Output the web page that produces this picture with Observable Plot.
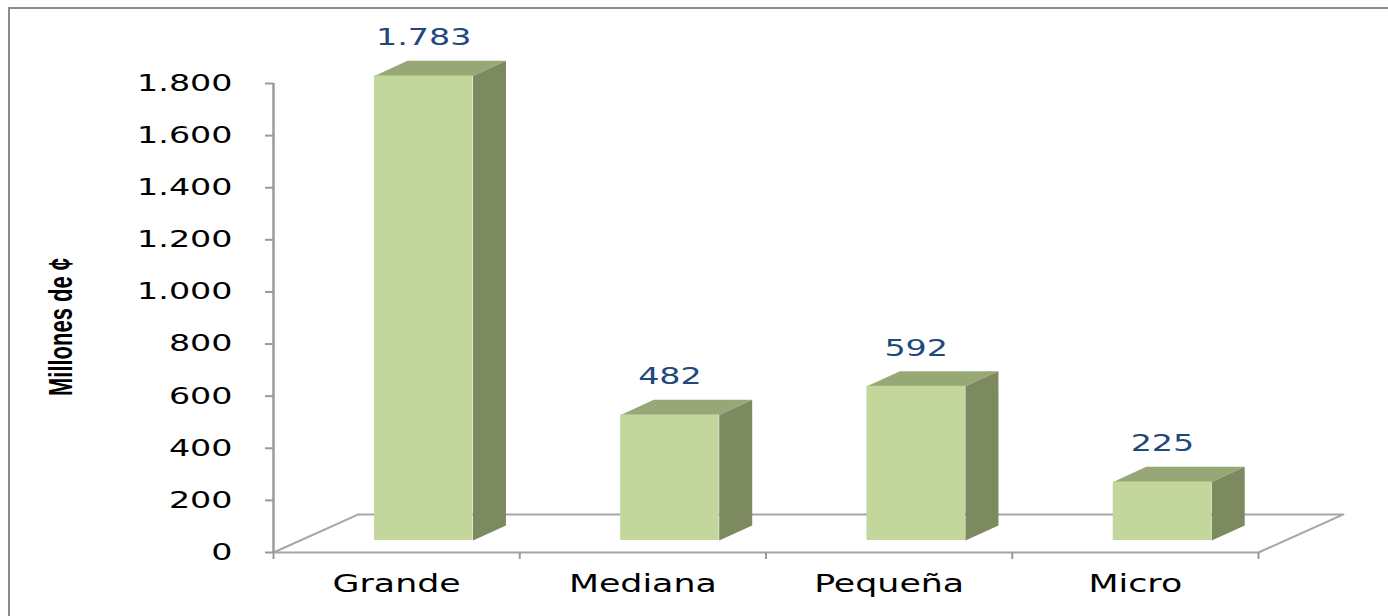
<!DOCTYPE html>
<html>
<head>
<meta charset="utf-8">
<script src="https://cdn.jsdelivr.net/npm/d3@7"></script>
<script src="https://cdn.jsdelivr.net/npm/@observablehq/plot@0.6"></script>
<style>
  html, body { margin: 0; padding: 0; background: #fff; overflow: hidden; }
  #wrap { position: relative; width: 1388px; height: 616px; }
  #border { position: absolute; left: 8px; top: 7px; width: 1500px; height: 800px;
            border: 2px solid #8c8c8c; pointer-events: none; }
</style>
</head>
<body>
<div id="wrap"><div id="chart"></div><div id="border"></div></div>
<script>
// ---- data ----
const categories = ["Grande", "Mediana", "Pequeña", "Micro"];
const values = [1783, 482, 592, 225];
const yTicks = [0, 200, 400, 600, 800, 1000, 1200, 1400, 1600, 1800];
const yTitle = "Millones de ¢";

// ---- 3D look (style constants, in scale units) ----
const BASE = 46;
const BAR_L = 0.41, BAR_R = 0.81;
const DDX = 0.134, DDY = 58;
const FDX = 0.345, FDY = 146;
const FRONT = "#c3d69b", TOP = "#98a776", SIDE = "#7d895e";
const AXIS = "#a6a6a6";

const fmt = d3.formatLocale({decimal: ",", thousands: ".", grouping: [3], currency: ["", ""]}).format(",d");

const bars = categories.map((c, i) => ({
  c, i, v: values[i],
  x1: i + BAR_L, x2: i + BAR_R, xm: i + (BAR_L + BAR_R) / 2,
  y0: BASE, y1: BASE + values[i]
}));
const topFaces = bars.flatMap(b => [
  [b.x1, b.y1], [b.x2, b.y1], [b.x2 + DDX, b.y1 + DDY], [b.x1 + DDX, b.y1 + DDY]
].map(([x, y]) => ({id: b.c, x, y})));
const sideFaces = bars.flatMap(b => [
  [b.x2, b.y0], [b.x2, b.y1], [b.x2 + DDX, b.y1 + DDY], [b.x2 + DDX, b.y0 + DDY]
].map(([x, y]) => ({id: b.c, x, y})));
const n = categories.length;
const floor = [[0, 0], [n, 0], [n + FDX, FDY], [FDX, FDY], [0, 0]].map(([x, y]) => ({x, y}));
const bounds = d3.range(n + 1);

const plot = Plot.plot({
  width: 1388,
  height: 616,
  marginLeft: 273,
  marginRight: 130,
  marginTop: 83,
  marginBottom: 64,
  style: {background: "transparent"},
  x: {type: "linear", domain: [0, n], label: null},
  y: {domain: [0, 1800], label: null},
  marks: [
    Plot.line(floor, {x: "x", y: "y", stroke: AXIS, strokeWidth: 2}),
    Plot.ruleX([0], {y1: 0, y2: 1800, stroke: "#9a9a9a", strokeWidth: 2.5}),
    Plot.axisY({ticks: yTicks, tickFormat: fmt, tickSize: 8, tickPadding: 33,
                stroke: "#9a9a9a", strokeWidth: 2, fill: "#000", fontSize: 23,
                fontFamily: "DejaVu Sans", label: null}),
    Plot.axisX({ticks: bounds, tickSize: 7, tickFormat: () => "", stroke: "#9a9a9a",
                strokeWidth: 2, label: null}),
    Plot.line(topFaces, {x: "x", y: "y", z: "id", fill: TOP, stroke: "none"}),
    Plot.line(sideFaces, {x: "x", y: "y", z: "id", fill: SIDE, stroke: "none"}),
    Plot.rect(bars, {x1: "x1", x2: "x2", y1: "y0", y2: "y1", fill: FRONT}),
    Plot.text(bars, {x: "xm", y: "y1", text: d => fmt(d.v), dy: -38, lineAnchor: "middle",
                     fill: "#1f497d", fontSize: 23, fontFamily: "DejaVu Sans"}),
    Plot.text(bars, {x: d => d.i + 0.5, y: 0, text: "c", dy: 32, lineAnchor: "middle",
                     fill: "#000", fontSize: 24, fontFamily: "DejaVu Sans"}),
    Plot.text([yTitle], {frameAnchor: "left", dx: -213, dy: 9, rotate: -90, text: d => d,
                         textAnchor: "middle", lineAnchor: "middle",
                         fill: "#000", fontSize: 20, fontWeight: "bold",
                         fontFamily: "Liberation Sans"})
  ]
});

document.getElementById("chart").appendChild(plot);

// horizontal stretch of text, as in the reference (wrap each text in a scaled group)
const NS = "http://www.w3.org/2000/svg";
Array.from(plot.querySelectorAll("text")).forEach(t => {
  try {
    if (!t.textContent) return;
    const bb = t.getBBox();
    const tr = t.getAttribute("transform") || "";
    const rotated = tr.includes("rotate");
    const anchor = getComputedStyle(t).textAnchor;
    let lx = bb.x + bb.width / 2;
    if (!rotated && anchor === "end") lx = bb.x + bb.width;
    const ly = bb.y + bb.height / 2;
    let p = plot.createSVGPoint(); p.x = lx; p.y = ly;
    const c = t.transform.baseVal.consolidate();
    if (c) p = p.matrixTransform(c.matrix);
    const sx = rotated ? 1.67 : 1.45, sy = rotated ? 1.1 : 1;
    const g = document.createElementNS(NS, "g");
    g.setAttribute("transform",
      `translate(${p.x},${p.y}) scale(${sx},${sy}) translate(${-p.x},${-p.y})`);
    t.parentNode.insertBefore(g, t);
    g.appendChild(t);
  } catch (e) { /* keep text as is */ }
});
</script>
</body>
</html>
